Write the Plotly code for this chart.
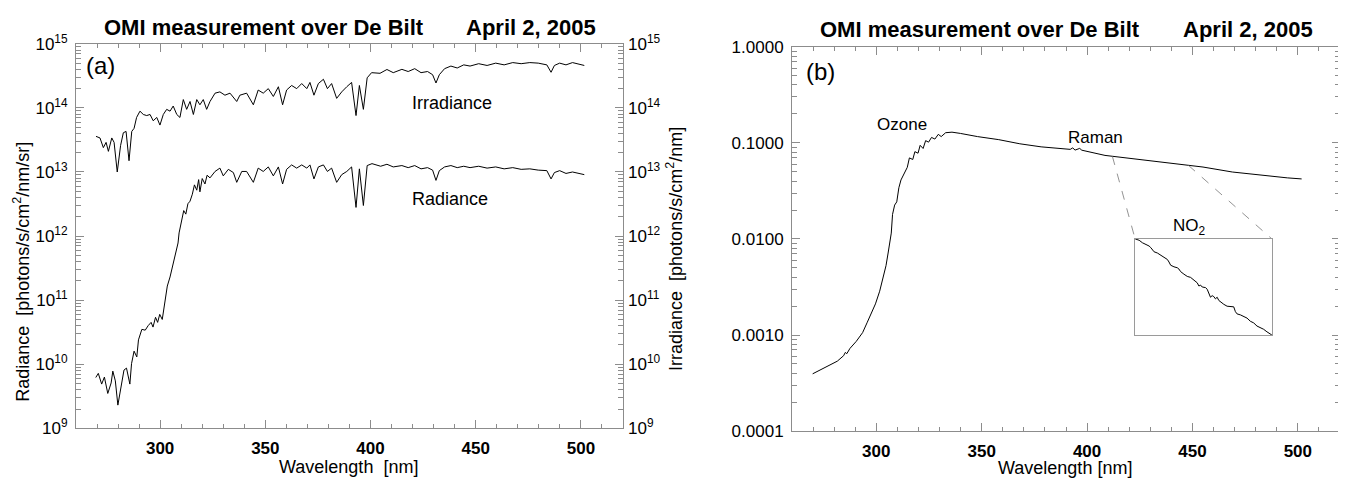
import math
import plotly.graph_objects as go

# ---------------- data ----------------
irr_wl = [269.5, 271.4, 273.0, 274.3, 275.4, 277.0, 278.1, 279.6, 281.2, 282.5, 283.8, 285.2, 286.5, 287.6,
          288.8, 290.4, 292.0, 293.6, 295.2, 296.7, 298.4, 299.9, 301.5, 303.1, 304.7, 306.2, 307.9, 309.4,
          311.0, 312.6, 314.2, 315.8, 317.4, 318.9, 320.5, 322.1, 323.7, 326.1, 328.4, 330.8, 333.2, 336.4,
          337.9, 341.1, 344.3, 346.6, 349.0, 351.4, 353.8, 356.2, 358.2, 360.1, 362.5, 364.9, 367.3, 369.7,
          371.2, 373.1, 375.2, 377.6, 379.5, 381.5, 383.9, 386.3, 388.7, 391.0, 393.1, 394.7, 396.6, 398.4,
          400.5, 404.5, 407.8, 410.8, 414.9, 417.9, 421.0, 424.0, 427.1, 429.5, 431.1, 432.7, 435.2, 438.2,
          441.2, 444.3, 447.3, 451.4, 455.4, 459.5, 463.5, 467.6, 471.6, 475.7, 479.7, 483.8, 485.8, 487.4,
          489.9, 492.9, 496.0, 499.0, 501.6]
irr_val = [3.6e13, 3.4e13, 2.4e13, 2.9e13, 2.1e13, 3.4e13, 2.9e13, 1.0e13, 2.6e13, 4.1e13, 4.3e13, 1.5e13, 4.3e13, 4.8e13,
           7.1e13, 8.9e13, 7.9e13, 7.6e13, 7.9e13, 6.3e13, 7.1e13, 5.4e13, 7.9e13, 9.5e13, 8.9e13, 1.07e14, 7.9e13, 7.1e13,
           1.35e14, 9.5e13, 1.26e14, 7.9e13, 1.35e14, 1.12e14, 1.35e14, 9.5e13, 1.26e14, 1.7e14, 1.78e14, 1.58e14, 1.7e14, 1.26e14,
           1.58e14, 1.7e14, 1.12e14, 1.9e14, 1.7e14, 2.0e14, 1.51e14, 2.14e14, 1.12e14, 1.9e14, 2.24e14, 2.0e14, 2.4e14, 2.0e14,
           2.5e14, 1.58e14, 2.4e14, 2.8e14, 2.0e14, 2.4e14, 1.41e14, 1.78e14, 2.14e14, 2.5e14, 7.6e13, 2.24e14, 9.5e13, 2.95e14,
           3.55e14, 3.47e14, 3.98e14, 3.55e14, 4.0e14, 3.7e14, 4.1e14, 3.55e14, 3.7e14, 3.3e14, 2.45e14, 3.3e14, 4.1e14, 4.5e14,
           4.2e14, 4.7e14, 4.5e14, 4.9e14, 4.6e14, 5.0e14, 4.7e14, 5.1e14, 4.9e14, 5.1e14, 5.0e14, 4.7e14, 3.6e14, 4.6e14,
           5.0e14, 4.7e14, 5.1e14, 4.8e14, 4.6e14]

rad_wl = [269.4, 270.6, 272.2, 273.5, 275.1, 276.7, 277.5, 278.7, 279.9, 281.2, 282.8, 284.0, 285.6, 286.4,
          287.6, 288.9, 289.7, 291.3, 292.9, 294.3, 295.7, 296.6, 297.8, 298.8, 299.8, 301.0, 302.2, 303.4,
          304.7, 305.5, 306.7, 307.5, 308.5, 309.0, 310.2, 311.2, 312.2, 313.2, 314.2, 315.3, 316.3, 317.4,
          318.3, 318.9, 320.0, 321.3, 322.3, 323.7, 326.1, 328.4, 330.0, 332.4, 334.8, 336.4, 338.8, 341.1,
          344.3, 346.6, 349.0, 351.4, 353.8, 356.2, 358.2, 360.1, 362.5, 364.9, 367.3, 369.7, 371.2, 373.1,
          375.2, 377.6, 379.5, 381.5, 383.9, 386.3, 388.7, 391.0, 393.1, 394.7, 396.6, 398.4,
          400.7, 404.8, 407.8, 410.8, 414.9, 417.9, 421.0, 424.0, 427.1, 429.5, 431.1, 432.7, 435.2, 438.2,
          441.2, 444.3, 447.3, 451.4, 455.4, 459.5, 463.5, 467.6, 471.6, 475.7, 479.7, 483.8, 485.8, 487.4,
          489.9, 492.9, 496.0, 499.0, 501.6]
rad_val = [6.2e9, 7.2e9, 4.9e9, 6.3e9, 3.5e9, 5.1e9, 7.8e9, 5.5e9, 2.3e9, 3.9e9, 8.1e9, 8.7e9, 4.9e9, 1.02e10,
           1.6e10, 1.3e10, 2.4e10, 3.5e10, 3.4e10, 4.0e10, 4.5e10, 3.8e10, 5.4e10, 4.5e10, 6.0e10, 5.0e10, 8.9e10, 1.66e11,
           2.3e11, 3.0e11, 4.2e11, 5.9e11, 7.8e11, 1.12e12, 1.8e12, 2.5e12, 2.2e12, 3.2e12, 3.5e12, 4.5e12, 6.3e12, 5.2e12,
           7.6e12, 4.9e12, 7.9e12, 6.5e12, 8.9e12, 8.1e12, 1.02e13, 1.15e13, 8.7e12, 1.1e13, 9.8e12, 6.9e12, 1.02e13, 1.02e13,
           6.9e12, 1.15e13, 1.02e13, 1.2e13, 8.7e12, 1.2e13, 6.5e12, 1.1e13, 1.29e13, 1.15e13, 1.29e13, 1.15e13, 1.29e13, 7.8e12,
           1.2e13, 1.29e13, 1.02e13, 1.15e13, 6.9e12, 9.1e12, 1.02e13, 1.2e13, 2.8e12, 1.12e13, 3.0e12, 1.26e13,
           1.35e13, 1.23e13, 1.32e13, 1.2e13, 1.26e13, 1.17e13, 1.26e13, 1.12e13, 1.17e13, 1.07e13, 7.4e12, 1.05e13, 1.2e13, 1.26e13,
           1.17e13, 1.23e13, 1.17e13, 1.23e13, 1.15e13, 1.2e13, 1.12e13, 1.17e13, 1.1e13, 1.12e13, 1.07e13, 1.05e13, 7.8e12, 9.8e12,
           1.05e13, 9.5e12, 1.0e13, 9.5e12, 9.1e12]

# reflectance (panel b), short- and long-wave parts
refl_wl_short = [269.8, 273.4, 277.4, 281.5, 284.5, 285.3, 286.0, 287.5, 290.5, 293.5, 295.6, 297.6, 299.6,
                 301.6, 303.2, 304.6, 305.6, 306.7, 307.1, 307.7, 308.7, 309.7, 310.7, 311.7, 313.7, 314.7,
                 315.7, 317.3, 318.3, 319.8, 320.8, 322.2, 323.4, 324.8, 326.2, 327.8, 329.4, 330.8, 332.9,
                 335.9, 339.9, 348.0, 358.1, 368.1, 378.2, 388.3, 392.0, 393.2, 394.3, 396.5, 397.5, 408.5]
refl_val_short = [3.95e-4, 4.32e-4, 4.77e-4, 5.35e-4, 6.1e-4, 6.6e-4, 6.4e-4, 7.26e-4, 8.6e-4, 1.06e-3, 1.34e-3, 1.68e-3, 2.11e-3,
                  2.86e-3, 3.88e-3, 5.27e-3, 7.14e-3, 9.7e-3, 1.15e-2, 1.8e-2, 2.25e-2, 2.43e-2, 3.41e-2, 4.11e-2, 5.15e-2, 5.56e-2,
                  6.97e-2, 6.71e-2, 8.09e-2, 7.8e-2, 9.42e-2, 8.73e-2, 0.1054, 0.1016, 0.1138, 0.1094, 0.1225, 0.1161, 0.1274,
                  0.1291, 0.1253, 0.1161, 0.1079, 0.0977, 0.0908, 0.0861, 0.0855, 0.0885, 0.0840, 0.0875, 0.0838, 0.0740]
refl_wl_long = [455.0, 468.9, 479.0, 489.1, 495.0, 501.8]
refl_val_long = [0.0560, 0.0497, 0.0468, 0.0444, 0.0432, 0.0421]

# NO2 window (shown enlarged in the inset)
no2_wl = [412.0, 413.05, 413.92, 414.80, 415.67, 416.11, 416.98, 417.85, 418.73, 419.60, 420.48, 420.91, 421.35,
          422.22, 423.10, 423.53, 423.97, 424.84, 425.72, 426.59, 427.03, 427.47, 428.34, 428.78, 429.21, 429.65,
          430.52, 430.96, 431.40, 431.83, 432.27, 432.71, 433.14, 433.58, 434.02, 434.46, 435.33, 436.20, 437.08,
          437.95, 438.39, 438.83, 439.70, 440.57, 441.45, 442.32, 443.20, 444.07, 444.94, 445.82, 446.69, 447.56, 448.0]
no2_val = [0.07250, 0.07231, 0.07194, 0.07171, 0.07147, 0.07124, 0.07063, 0.07045, 0.07017, 0.06984, 0.06951, 0.06914, 0.06867,
           0.06844, 0.06830, 0.06811, 0.06774, 0.06737, 0.06704, 0.06690, 0.06671, 0.06657, 0.06611, 0.06564, 0.06578, 0.06550,
           0.06541, 0.06517, 0.06447, 0.06401, 0.06424, 0.06410, 0.06377, 0.06401, 0.06354, 0.06331, 0.06298, 0.06270, 0.06270,
           0.06261, 0.06191, 0.06158, 0.06144, 0.06121, 0.06097, 0.06051, 0.06027, 0.05981, 0.05957, 0.05934, 0.05897, 0.05864, 0.0585]

x_ticks = [300, 350, 400, 450, 500]
a_yticks = [1e9, 1e10, 1e11, 1e12, 1e13, 1e14, 1e15]
a_yticktext = ["10<sup>9</sup>", "10<sup>10</sup>", "10<sup>11</sup>", "10<sup>12</sup>",
               "10<sup>13</sup>", "10<sup>14</sup>", "10<sup>15</sup>"]
b_yticks = [1e-4, 1e-3, 1e-2, 1e-1, 1.0]
b_yticktext = ["0.0001", "0.0010", "0.0100", "0.1000", "1.0000"]

# inset box (in panel-b data units)
inset_box_wl = (422.8, 487.7)
inset_box_r = (0.001, 0.01)

# ---------------- layout geometry ----------------
OFF = 8                     # page body margin in the browser
FW, FH = 1338, 478
FONT = "Liberation Sans, Arial, Helvetica, sans-serif"
AXC = "#8c8c8c"


def px(x):
    return (x - OFF) / FW


def py(y):
    return 1 - (y - OFF) / FH


a_xdom = [px(76), px(623)]
a_ydom = [py(436), py(33)]
b_xdom = [px(792), px(1340)]
b_ydom = [py(439), py(36)]
XR = [260, 520]


def frac_x(v, dom):
    return dom[0] + (v - XR[0]) / (XR[1] - XR[0]) * (dom[1] - dom[0])


def frac_ylog(v, dom, lo, hi):
    return dom[0] + (math.log10(v) - lo) / (hi - lo) * (dom[1] - dom[0])


inset_xdom = [frac_x(inset_box_wl[0], b_xdom), frac_x(inset_box_wl[1], b_xdom)]
inset_ydom = [frac_ylog(inset_box_r[0], b_ydom, -4, 0), frac_ylog(inset_box_r[1], b_ydom, -4, 0)]


def minor_log(lo, hi):
    vals = []
    for e in range(lo, hi):
        for m in range(2, 10):
            vals.append(m * 10 ** e)
    return vals


fig = go.Figure()
line = dict(color="black", width=1)

fig.add_trace(go.Scatter(x=irr_wl, y=irr_val, mode="lines", line=line, xaxis="x", yaxis="y2", showlegend=False))
fig.add_trace(go.Scatter(x=rad_wl, y=rad_val, mode="lines", line=line, xaxis="x", yaxis="y", showlegend=False))

refl_wl = refl_wl_short + no2_wl + refl_wl_long
refl_val = refl_val_short + no2_val + refl_val_long
fig.add_trace(go.Scatter(x=refl_wl, y=refl_val, mode="lines", line=line, xaxis="x2", yaxis="y3", showlegend=False))

# connectors from zoom window to inset box
conn_x = [no2_wl[0], inset_box_wl[0], None, no2_wl[-1], inset_box_wl[1]]
conn_y = [no2_val[0], inset_box_r[1], None, no2_val[-1], inset_box_r[1]]
fig.add_trace(go.Scatter(x=conn_x, y=conn_y, mode="lines", line=dict(color="#777777", width=0.8, dash="dash"),
                         xaxis="x2", yaxis="y3", showlegend=False, connectgaps=False))

fig.add_trace(go.Scatter(x=no2_wl, y=no2_val, mode="lines", line=line, xaxis="x3", yaxis="y4", showlegend=False))

tickfont_b = dict(family=FONT, size=17, color="black", weight="bold")
tickfont_r = dict(family=FONT, size=17, color="black")

xcommon = dict(range=XR, tickvals=x_ticks, ticks="inside", ticklen=8, tickcolor=AXC, tickwidth=1,
               showline=True, linecolor=AXC, linewidth=1, mirror="ticks", showgrid=False, zeroline=False,
               tickfont=tickfont_b, ticklabelstandoff=4,
               minor=dict(ticks="inside", ticklen=4, dtick=10, tick0=0, tickcolor=AXC, showgrid=False))

fig.update_layout(
    width=FW, height=FH, margin=dict(l=0, r=0, t=0, b=0),
    paper_bgcolor="white", plot_bgcolor="white",
    xaxis=dict(domain=a_xdom, anchor="y", **xcommon),
    yaxis=dict(domain=a_ydom, anchor="x", type="log", range=[9, 15], tickvals=a_yticks, ticktext=a_yticktext,
               ticks="inside", ticklen=8, tickcolor=AXC, showline=True, linecolor=AXC, linewidth=1,
               mirror="ticks", showgrid=False, zeroline=False, tickfont=tickfont_r, ticklabelstandoff=4,
               minor=dict(ticks="inside", ticklen=5, tickvals=minor_log(9, 15), tickcolor=AXC, showgrid=False)),
    yaxis2=dict(overlaying="y", anchor="x", side="right", type="log", range=[9, 15], tickvals=a_yticks,
                ticktext=a_yticktext, ticks="", showline=False, showgrid=False, zeroline=False,
                tickfont=tickfont_r, ticklabelstandoff=4),
    xaxis2=dict(domain=b_xdom, anchor="y3", **xcommon),
    yaxis3=dict(domain=b_ydom, anchor="x2", type="log", range=[-4, 0], tickvals=b_yticks, ticktext=b_yticktext,
                ticks="inside", ticklen=8, tickcolor=AXC, showline=True, linecolor=AXC, linewidth=1,
                mirror="ticks", showgrid=False, zeroline=False, tickfont=tickfont_r, ticklabelstandoff=4,
                minor=dict(ticks="inside", ticklen=5, tickvals=minor_log(-4, 0), tickcolor=AXC, showgrid=False)),
    xaxis3=dict(domain=inset_xdom, anchor="y4", range=[no2_wl[0], no2_wl[-1]], showline=True, mirror=True,
                linecolor="#9a9a9a", linewidth=1, ticks="", showticklabels=False, showgrid=False, zeroline=False),
    yaxis4=dict(domain=inset_ydom, anchor="x3", range=[no2_val[-1], no2_val[0]], showline=True, mirror=True,
                linecolor="#9a9a9a", linewidth=1, ticks="", showticklabels=False, showgrid=False, zeroline=False),
)


def ann(text, x, y, size, bold=False, angle=0):
    fig.add_annotation(text=text, x=px(x), y=py(y), xref="paper", yref="paper", showarrow=False,
                       xanchor="center", yanchor="middle", textangle=angle,
                       font=dict(family=FONT, size=size, color="black", weight="bold" if bold else "normal"))


ann("OMI measurement over De Bilt", 264, 16, 22, bold=True)
ann("April 2, 2005", 531, 16, 22, bold=True)
ann("OMI measurement over De Bilt", 980, 18, 22, bold=True)
ann("April 2, 2005", 1248, 18, 22, bold=True)
ann("(a)", 100, 56, 24)
ann("Irradiance", 452, 95, 18)
ann("Radiance", 450, 196, 18)
ann("(b)", 820, 62, 24)
ann("Ozone", 902, 118, 17)
ann("Raman", 1095, 131, 17)
ann("NO<sub>2</sub>", 1189, 225, 17)
ann("Radiance  [photons/s/cm<sup>2</sup>/nm/sr]", 22, 272, 18, angle=-90)
ann("Irradiance  [photons/s/cm<sup>2</sup>/nm]", 675, 248, 18, angle=-90)
ann("Wavelength  [nm]", 348, 477, 18)
ann("Wavelength [nm]", 1065, 478, 18)

fig.write_html("out.html")
